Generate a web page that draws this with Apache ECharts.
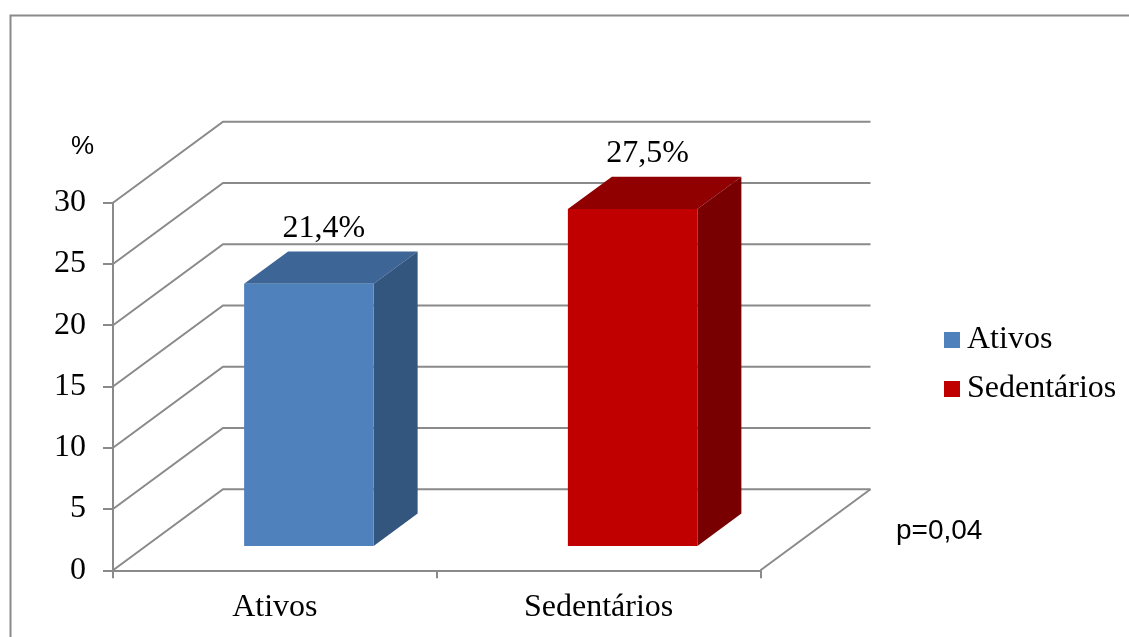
<!DOCTYPE html>
<html>
<head>
<meta charset="utf-8">
<script src="https://cdn.jsdelivr.net/npm/echarts@6/dist/echarts.min.js"></script>
<style>
  html, body { margin: 0; padding: 0; background: #fff; }
  #chart { width: 1129px; height: 637px; }
</style>
</head>
<body>
<div id="chart"></div>
<script>
// Percentages per group
const categories = ['Ativos', 'Sedentários'];
const values = [21.4, 27.5];
const valueLabels = ['21,4%', '27,5%'];
const yTicks = [0, 5, 10, 15, 20, 25, 30];

// Shading for the three visible faces of each bar
const frontColors = ['#4F81BD', '#C00000'];
const topColors = ['#3D6696', '#900000'];
const sideColors = ['#33567F', '#790000'];

const SERIF = '"Liberation Serif", "Times New Roman", serif';
const SANS = '"Liberation Sans", Arial, sans-serif';
const LINE = '#8a8a8a';

// Oblique depth of the floor (pixels) and where bars sit inside it
const DEPTH_X = 110, DEPTH_Y = 81;
const BAR_Z0 = 0.3, BAR_Z1 = 0.7;
const BAR_WIDTH = 0.4;

function wallItem(params, api) {
  const v = api.value(1);
  const cs = params.coordSys;
  const p = api.coord([0, v]);
  const xl = cs.x, xr = cs.x + cs.width;
  const y = p[1];
  const children = [{
    type: 'polyline',
    shape: { points: [[xl, y], [xl + DEPTH_X, y - DEPTH_Y], [xr + DEPTH_X, y - DEPTH_Y]] },
    style: { stroke: LINE, lineWidth: 2, fill: null }
  }];
  if (v === 0) {
    children.push({
      type: 'line',
      shape: { x1: xr + DEPTH_X, y1: y - DEPTH_Y, x2: xr, y2: y },
      style: { stroke: LINE, lineWidth: 2 }
    });
  }
  return { type: 'group', children };
}

function barItem(idx) {
  return function (params, api) {
    const cat = api.value(0), val = api.value(1);
    const base = api.coord([cat, 0]);
    const top = api.coord([cat, val]);
    const w = api.size([1, 0])[0] * BAR_WIDTH;
    const fx = DEPTH_X * BAR_Z0, fy = DEPTH_Y * BAR_Z0;
    const bx = DEPTH_X * BAR_Z1, by = DEPTH_Y * BAR_Z1;
    const cx = base[0] + 1;
    const L = cx - w / 2 + fx, R = cx + w / 2 + fx;
    const T = top[1] - fy, B = base[1] - fy;
    const dx = bx - fx, dy = by - fy;
    return {
      type: 'group',
      children: [
        { type: 'polygon', shape: { points: [[L, T], [R, T], [R + dx, T - dy], [L + dx, T - dy]] },
          style: { fill: topColors[idx] } },
        { type: 'polygon', shape: { points: [[R, T], [R + dx, T - dy], [R + dx, B - dy], [R, B]] },
          style: { fill: sideColors[idx] } },
        { type: 'rect', shape: { x: L, y: T, width: R - L, height: B - T },
          style: { fill: frontColors[idx] } },
        { type: 'text', x: cx + fx + 15, y: T - dy - 7,
          style: { text: valueLabels[idx], font: '32px ' + SERIF, fill: '#000',
                   textAlign: 'center', textVerticalAlign: 'bottom' } }
      ]
    };
  };
}

const chart = echarts.init(document.getElementById('chart'), null, { renderer: 'canvas' });

const series = [{
  type: 'custom',
  name: 'walls',
  silent: true,
  z: 1,
  clip: false,
  renderItem: wallItem,
  data: yTicks.map(v => [0, v])
}];
categories.forEach((c, i) => {
  series.push({
    type: 'custom',
    name: c,
    z: 3,
    clip: false,
    itemStyle: { color: frontColors[i] },
    renderItem: barItem(i),
    data: [[i, values[i]]]
  });
});

chart.setOption({
  animation: false,
  backgroundColor: '#fff',
  grid: { left: 113, right: 368.5, top: 202.7, bottom: 66.7 },
  xAxis: {
    type: 'category',
    data: categories,
    boundaryGap: true,
    axisLine: { show: true, lineStyle: { color: LINE, width: 2 } },
    axisTick: { show: true, length: 8, alignWithLabel: false, lineStyle: { color: LINE, width: 2 } },
    axisLabel: { margin: 21, color: '#000', fontFamily: SERIF, fontSize: 32 },
    splitLine: { show: false }
  },
  yAxis: {
    type: 'value',
    min: 0, max: 30, interval: 5,
    axisLine: { show: true, lineStyle: { color: LINE, width: 2 } },
    axisTick: { show: true, length: 10, lineStyle: { color: LINE, width: 2 } },
    axisLabel: { margin: 27, color: '#000', fontFamily: SERIF, fontSize: 32 },
    splitLine: { show: false }
  },
  legend: {
    data: categories,
    orient: 'vertical',
    left: 944, top: 324,
    icon: 'rect',
    itemWidth: 16, itemHeight: 16,
    itemGap: 17,
    padding: 0,
    textStyle: { fontFamily: SERIF, fontSize: 32, color: '#000', padding: [3, 0, 0, 2] }
  },
  graphic: [
    { type: 'rect', left: 8, top: 13, z: 0,
      shape: { x: 0, y: 0, width: 1200, height: 700 },
      style: { fill: null, stroke: '#8a8a8a', lineWidth: 2 } },
    { type: 'text', left: 71, top: 134,
      style: { text: '%', font: '26px ' + SANS, fill: '#000' } },
    { type: 'text', left: 896, top: 517,
      style: { text: 'p=0,04', font: '28px ' + SANS, fill: '#000' } }
  ],
  series
});
</script>
</body>
</html>
